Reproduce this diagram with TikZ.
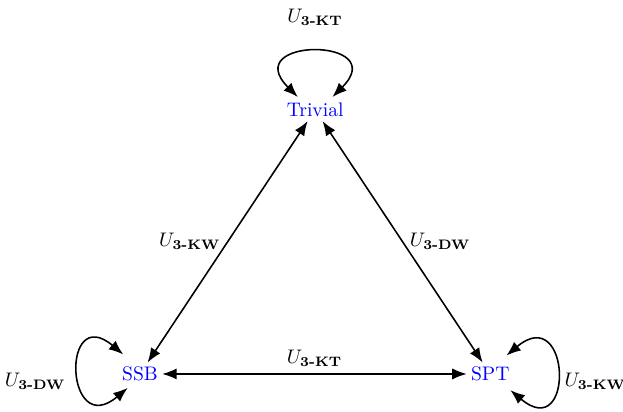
\documentclass[tikz,border=0pt]{standalone}
\usepackage{amsmath,amssymb}
\usetikzlibrary{arrows.meta}

\tikzset{
    phase/.style={text=blue, inner sep=2pt},
    map/.style={thick, {Latex[length=2.6mm,width=2mm]}-{Latex[length=2.6mm,width=2mm]}},
}
\newcommand{\Umap}[1]{$U_{\textbf{3-#1}}$}

\begin{document}
\begin{tikzpicture}[scale=1]

    \useasboundingbox (0,0) rectangle (11.17,7.37);

    % phases
    \node[phase] (trivial) at (5.65,5.40) {Trivial};
    \node[phase] (ssb) at (2.51,0.665) {SSB};
    \node[phase] (spt) at (8.79,0.665) {SPT};

    % transitions between phases
    \draw[map] (trivial) -- (ssb) node[midway,left]{\Umap{KW}};
    \draw[map] (trivial) -- (spt) node[midway,right]{\Umap{DW}};
    \draw[map] (ssb) -- (spt) node[midway,above]{\Umap{KT}};

    % self maps
    \draw[map] ([xshift=-0.31cm,yshift=0.23cm]trivial.center)
        to[out=135,in=45,looseness=6.3] ([xshift=0.31cm,yshift=0.23cm]trivial.center);
    \draw[map] ([xshift=-0.30cm,yshift=0.35cm]ssb.center)
        to[out=140,in=220,looseness=6.2] ([xshift=-0.22cm,yshift=-0.25cm]ssb.center);
    \draw[map] ([xshift=0.29cm,yshift=0.33cm]spt.center)
        to[out=40,in=-40,looseness=6.2] ([xshift=0.36cm,yshift=-0.29cm]spt.center);

    \node (lbltop) at (5.65,7.05) {\Umap{KT}};
    \node (lblleft) at (0.63,0.54) {\Umap{DW}};
    \node (lblright) at (10.67,0.54) {\Umap{KW}};
\end{tikzpicture}
\end{document}
